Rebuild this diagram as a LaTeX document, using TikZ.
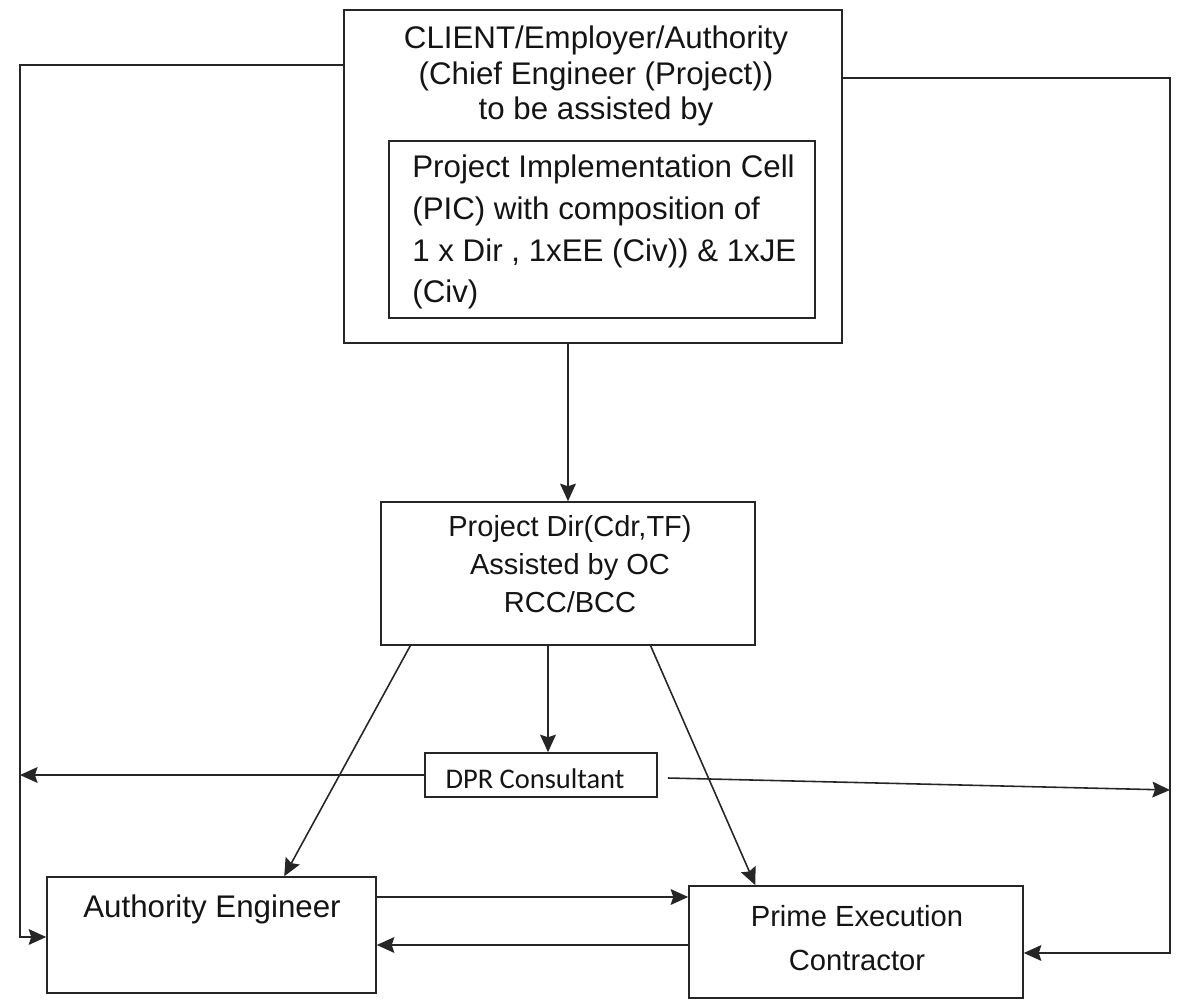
\documentclass[tikz,border=0pt]{standalone}
\usepackage{fontspec}
\setmainfont{Liberation Sans}
\newfontfamily\calib{Carlito}
\usetikzlibrary{arrows.meta,calc,fit}
\begin{document}
\begin{tikzpicture}[x=0.02cm,y=-0.02cm,
  box/.style={draw=black!85, line width=0.9pt, inner sep=0pt},
  lbl/.style={text=black!92, inner sep=0pt, align=center},
  conn/.style={draw=black!85, line width=0.9pt},
  arr/.style={conn, -{Stealth[length=10pt,width=9pt,inset=1.5pt]}},
]
\useasboundingbox (0,0) rectangle (1181,1001);
% boxes
\node[box, fit={(344,10) (842,343)}] (client) {};
\node[box, fit={(389,141) (815,318)}] (pic) {};
\node[box, fit={(381,502) (755,645)}] (pd) {};
\node[box, fit={(425,753) (657,797)}] (dpr) {};
\node[box, fit={(47,877) (376,993)}] (ae) {};
\node[box, fit={(689,886) (1023,998)}] (pec) {};
% texts
\node[lbl, font=\fontsize{17.8}{20}\selectfont] (clientT) at (596,76)
  {CLIENT/Employer/Authority\\(Chief Engineer (Project))\\to be assisted by};
\node[lbl, align=left, anchor=west, font=\fontsize{17.8}{23.8}\selectfont] (picT) at (412,232)
  {Project Implementation Cell\\(PIC) with composition of\\1 x Dir , 1xEE (Civ)) \& 1xJE\\(Civ)};
\node[lbl, font=\fontsize{16.5}{21.8}\selectfont] (pdT) at (570,564)
  {Project Dir(Cdr,TF)\\Assisted by OC\\RCC/BCC};
\node[lbl, anchor=base, font=\fontsize{17.8}{20}\selectfont] (aeT) at (212,917) {Authority Engineer};
\node[lbl, font=\fontsize{16.6}{25}\selectfont] (pecT) at (857,938) {Prime Execution\\Contractor};
\node[lbl, anchor=base, font=\calib\fontsize{16.2}{19}\selectfont] (dprT) at (535,788) {DPR Consultant};
% routing coordinates
\coordinate (LT) at (20,65);
\coordinate (LB) at (20,937);
\coordinate (RT) at (1170,78);
\coordinate (RB) at (1170,953);
\coordinate (dprin) at ($(dpr.north)+(7,0)$);
\coordinate (dprR) at (1170,790);
\coordinate (a2p) at (0,897);
\coordinate (p2a) at (0,945);
% connectors
\draw[arr] (client.west |- LT) -- (LT) -- (LB) -- (ae.west |- LB);
\draw[arr] (client.east |- RT) -- (RT) -- (RB) -- (pec.east |- RB);
\draw[arr] (pd.north |- client.south) -- (pd.north);
\draw[arr] (dprin |- pd.south) -- (dprin);
\draw[arr] ($(pd.south west)!0.08!(pd.south east)$) -- ($(ae.north west)!0.72!(ae.north east)$);
\draw[arr] ($(pd.south west)!0.72!(pd.south east)$) -- ($(pec.north west)!0.2!(pec.north east)$);
\draw[arr] (dpr.west) -- (dpr.west -| LT);
\draw[arr] ($(dpr.east)+(10,3)$) -- (dprR);
\draw[arr] (ae.east |- a2p) -- (pec.west |- a2p);
\draw[arr] (pec.west |- p2a) -- (ae.east |- p2a);
\end{tikzpicture}
\end{document}
